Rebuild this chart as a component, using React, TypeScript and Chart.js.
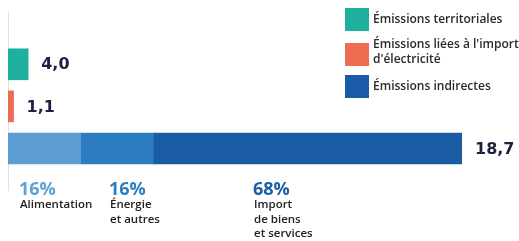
import React, { useEffect, useRef } from "react";
import { Chart, registerables } from "chart.js";

Chart.register(...registerables);

// ---- data ----
const categories = ["Émissions territoriales", "Émissions liées à l'import d'électricité", "Émissions indirectes"];
const totals = [4.0, 1.1, 18.7];
const valueLabels = ["4,0", "1,1", "18,7"];
const indirectParts = ["Alimentation", "Énergie et autres", "Import de biens et services"];
const indirectShares = [16, 16, 68];
const shareLabels = ["16%", "16%", "68%"];

const legendLines = [["Émissions territoriales"], ["Émissions liées à l'import", "d'électricité"], ["Émissions indirectes"]];
const partLines = [["Alimentation"], ["Énergie", "et autres"], ["Import", "de biens", "et services"]];

// ---- styles ----
const TEAL = "#1fb09f";
const ORANGE = "#ee6c52";
const BLUE = "#1b5aa6";
const partColors = ["#5e9dd1", "#2c7dc0", "#1a5da5"];
const shareColors = ["#5aa2d8", "#2a7fc1", "#1d5ea8"];

export default function App() {
  const ref = useRef<HTMLCanvasElement | null>(null);

  useEffect(() => {
    if (!ref.current) return;

    const datasets: any[] = [
      {
        label: categories[0],
        data: [{ y: 0, x: totals[0] }],
        backgroundColor: TEAL,
        xAxisID: "x2",
        stack: "a",
      },
      {
        label: categories[1],
        data: [{ y: 1, x: totals[1] }],
        backgroundColor: ORANGE,
        xAxisID: "x2",
        stack: "b",
      },
      ...indirectParts.map((p, i) => ({
        label: p,
        data: [{ y: 2, x: (totals[2] * indirectShares[i]) / 100 }],
        backgroundColor: partColors[i],
        xAxisID: "x",
        stack: "c",
      })),
    ];

    const overlay = {
      id: "overlay",
      afterDatasetsDraw(chart: any) {
        const ctx = chart.ctx as CanvasRenderingContext2D;
        ctx.save();
        const ends = [
          chart.getDatasetMeta(0).data[0],
          chart.getDatasetMeta(1).data[0],
          chart.getDatasetMeta(4).data[0],
        ];
        ctx.font = 'bold 16px "DejaVu Sans"';
        ctx.fillStyle = "#1b2240";
        ctx.textBaseline = "middle";
        ctx.textAlign = "left";
        ends.forEach((el: any, i: number) => {
          ctx.fillText(valueLabels[i], el.x + 13, el.y + 1);
        });

        // legend
        const legendColors = [TEAL, ORANGE, BLUE];
        const boxX = 345;
        const boxTops = [8, 43, 75];
        const textCenters = [[20], [45, 59.5], [87]];
        ctx.font = '600 12px "Open Sans"';
        legendLines.forEach((lines, i) => {
          ctx.fillStyle = legendColors[i];
          ctx.fillRect(boxX, boxTops[i], 24, 23);
          ctx.fillStyle = "#2b2b2b";
          lines.forEach((l, j) => ctx.fillText(l, 373, textCenters[i][j]));
        });

        // part annotations
        const partX = [20, 110, 254];
        ctx.textBaseline = "alphabetic";
        partLines.forEach((lines, i) => {
          ctx.font = 'bold 18px "Open Sans"';
          ctx.fillStyle = shareColors[i];
          ctx.fillText(shareLabels[i], partX[i] - 1, 195);
          ctx.font = '600 11.5px "Open Sans"';
          ctx.fillStyle = "#222222";
          lines.forEach((l, j) => ctx.fillText(l, partX[i], 208 + j * 14.5));
        });
        ctx.restore();
      },
    };

    const chart = new Chart(ref.current, {
      type: "bar",
      data: { datasets },
      options: {
        indexAxis: "y",
        animation: false,
        responsive: false,
        layout: { padding: { left: 8, right: 57, top: 11, bottom: 51 } },
        datasets: { bar: { grouped: false, barThickness: 31, borderWidth: 0 } },
        plugins: { legend: { display: false }, tooltip: { enabled: false } },
        scales: {
          x: { type: "linear", min: 0, max: totals[2], stacked: true, display: false },
          x2: { type: "linear", min: 0, max: 90, stacked: true, display: false },
          y: {
            type: "linear",
            min: -1,
            max: 2.72,
            reverse: true,
            display: true,
            ticks: { display: false },
            grid: { display: false, drawTicks: false },
            border: { display: true, color: "#dde2e6", width: 1 },
          },
        },
      } as any,
      plugins: [overlay],
    });

    return () => chart.destroy();
  }, []);

  return (
    <div style={{ position: "absolute", left: 0, top: 0, width: 519, height: 241, background: "#fff" }}>
      <canvas ref={ref} width={519} height={241} style={{ display: "block" }} />
    </div>
  );
}
